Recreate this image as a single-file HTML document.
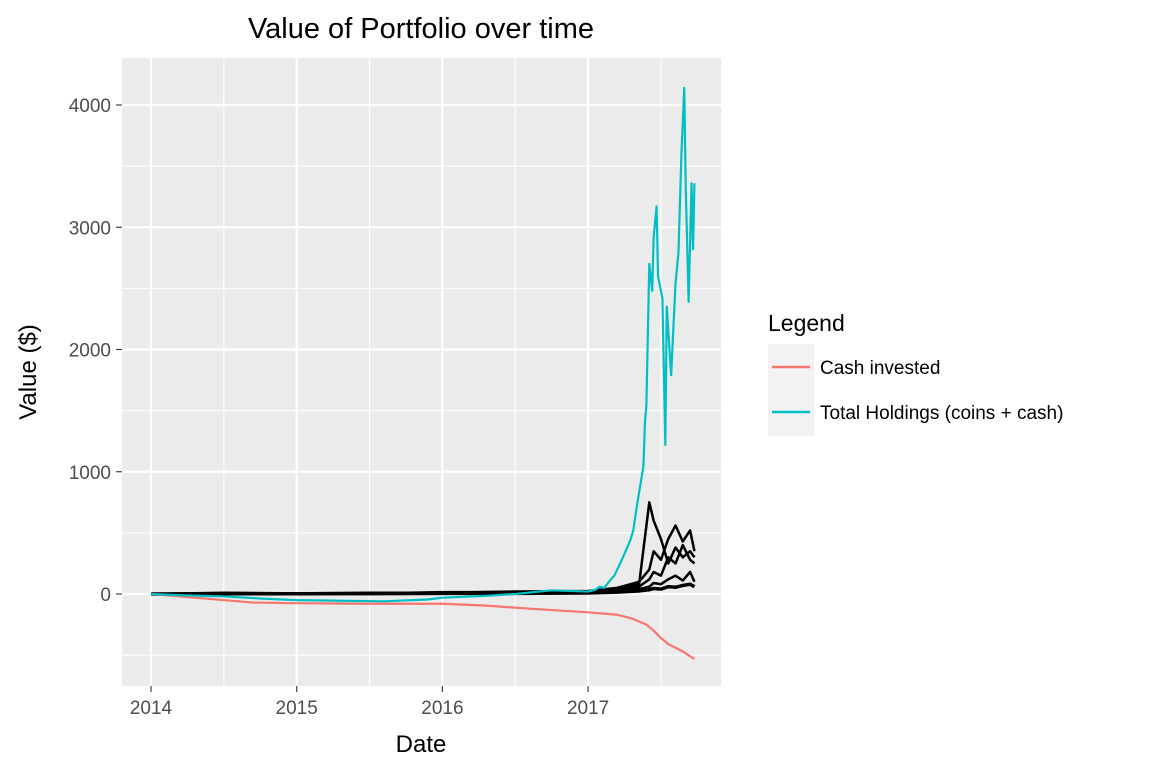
<!DOCTYPE html>
<html><head><meta charset="utf-8"><style>
body{margin:0;background:#fff;font-family:"Liberation Sans",Arial,sans-serif}
</style></head><body>
<svg id="chart" width="1152" height="768" xmlns="http://www.w3.org/2000/svg" font-family="Liberation Sans, Arial, sans-serif">
<rect width="1152" height="768" fill="#fff"/>
<text x="421" y="38" font-size="29" text-anchor="middle" fill="#000">Value of Portfolio over time</text>
<rect x="122" y="58" width="599" height="628" fill="#EBEBEB"/>
<g id="grid"></g>
<g id="series"></g>
<g id="axes"></g>
<text x="421" y="752" font-size="24" text-anchor="middle">Date</text>
<text transform="translate(36,372) rotate(-90)" font-size="24" text-anchor="middle">Value ($)</text>
<g>
<text x="768" y="331" font-size="23">Legend</text>
<rect x="768" y="344" width="46" height="46" fill="#F2F2F2"/>
<line x1="772" y1="367" x2="810" y2="367" stroke="#F8766D" stroke-width="2.5"/>
<text x="820" y="374" font-size="19">Cash invested</text>
<rect x="768" y="390" width="46" height="46" fill="#F2F2F2"/>
<line x1="772" y1="412" x2="810" y2="412" stroke="#00BFC4" stroke-width="2.5"/>
<text x="820" y="419" font-size="19">Total Holdings (coins + cash)</text>
</g>
</svg>
<script>
const xTicks=[2014,2015,2016,2017];
const yTicks=[0,1000,2000,3000,4000];
const cashDates=[2014.0,2014.3,2014.7,2015.0,2015.5,2016.0,2016.3,2016.6,2017.0,2017.2,2017.3,2017.4,2017.45,2017.5,2017.55,2017.6,2017.65,2017.7,2017.73];
const cashVals=[0,-30,-70,-75,-80,-80,-95,-120,-150,-170,-200,-250,-300,-360,-410,-440,-470,-510,-530];
const totalDates=[2014.0,2014.2,2014.5,2014.8,2015.0,2015.3,2015.6,2015.9,2016.0,2016.3,2016.5,2016.75,2017.0,2017.05,2017.08,2017.11,2017.15,2017.18,2017.22,2017.25,2017.29,2017.31,2017.34,2017.36,2017.38,2017.39,2017.40,2017.42,2017.44,2017.45,2017.47,2017.48,2017.51,2017.53,2017.54,2017.57,2017.60,2017.62,2017.64,2017.66,2017.67,2017.69,2017.71,2017.72,2017.73];
const totalVals=[0,-10,-20,-40,-50,-55,-60,-45,-30,-15,0,30,20,35,60,50,110,150,250,330,440,520,760,900,1050,1400,1540,2700,2480,2920,3170,2600,2420,1220,2350,1790,2540,2790,3580,4140,3330,2390,3360,2820,3360];
const coinDates=[2014.0,2014.5,2015.0,2015.5,2016.0,2016.5,2017.0,2017.2,2017.35,2017.42,2017.45,2017.5,2017.55,2017.6,2017.65,2017.7,2017.73];
const coinA=[0,10,5,5,15,15,20,40,80,750,600,450,250,380,300,350,300];
const coinB=[0,5,5,10,10,20,25,50,100,200,350,280,450,560,430,520,350];
const coinC=[0,5,5,5,10,10,15,30,60,120,180,150,300,250,400,280,250];
const coinD=[0,3,3,5,5,10,10,20,40,60,90,80,120,150,110,180,100];
const coinE=[0,2,2,3,5,5,8,15,25,35,45,40,60,55,70,80,60];
const x=d=>151+(d-2014)*145.7;
const y=v=>594-v*0.12225;
const ns="http://www.w3.org/2000/svg";
function mk(tag,attrs,parent){const e=document.createElementNS(ns,tag);for(const k in attrs)e.setAttribute(k,attrs[k]);parent.appendChild(e);return e;}
const grid=document.getElementById('grid'),axes=document.getElementById('axes'),ser=document.getElementById('series');
for(let v=-500;v<=4000;v+=500){const l=mk('line',{x1:122,x2:721,y1:y(v),y2:y(v),stroke:'#fff','stroke-width':v%1000===0?2.2:1.1},grid);

}
for(let d=2014;d<=2017.5;d+=0.5){const l=mk('line',{x1:x(d),x2:x(d),y1:58,y2:686,stroke:'#fff','stroke-width':d%1===0?2.2:1.1},grid);

}
yTicks.forEach(v=>{mk('line',{x1:116,x2:122,y1:y(v),y2:y(v),stroke:'#333','stroke-width':1.1},axes);
const t=mk('text',{x:111,y:y(v)+7,'font-size':19,'text-anchor':'end',fill:'#4D4D4D'},axes);t.textContent=v;

});
xTicks.forEach(d=>{mk('line',{x1:x(d),x2:x(d),y1:686,y2:692,stroke:'#333','stroke-width':1.1},axes);
const t=mk('text',{x:x(d),y:714,'font-size':19,'text-anchor':'middle',fill:'#4D4D4D'},axes);t.textContent=d;

});
function line(ds,vs,color,w,name){const p=mk('polyline',{points:ds.map((d,i)=>x(d)+','+y(vs[i])).join(' '),fill:'none',stroke:color,'stroke-width':w,'stroke-linejoin':'round'},ser);

}
line(coinDates,coinA,'#000',2.5,'coin-line-a');
line(coinDates,coinB,'#000',2.5,'coin-line-b');
line(coinDates,coinC,'#000',2.5,'coin-line-c');
line(coinDates,coinD,'#000',2.5,'coin-line-d');
line(coinDates,coinE,'#000',3.5,'coin-line-e');
line(cashDates,cashVals,'#F8766D',2.2,'cash-invested-line');
line(totalDates,totalVals,'#00BFC4',2.2,'total-holdings-line');
</script>
</body></html>
